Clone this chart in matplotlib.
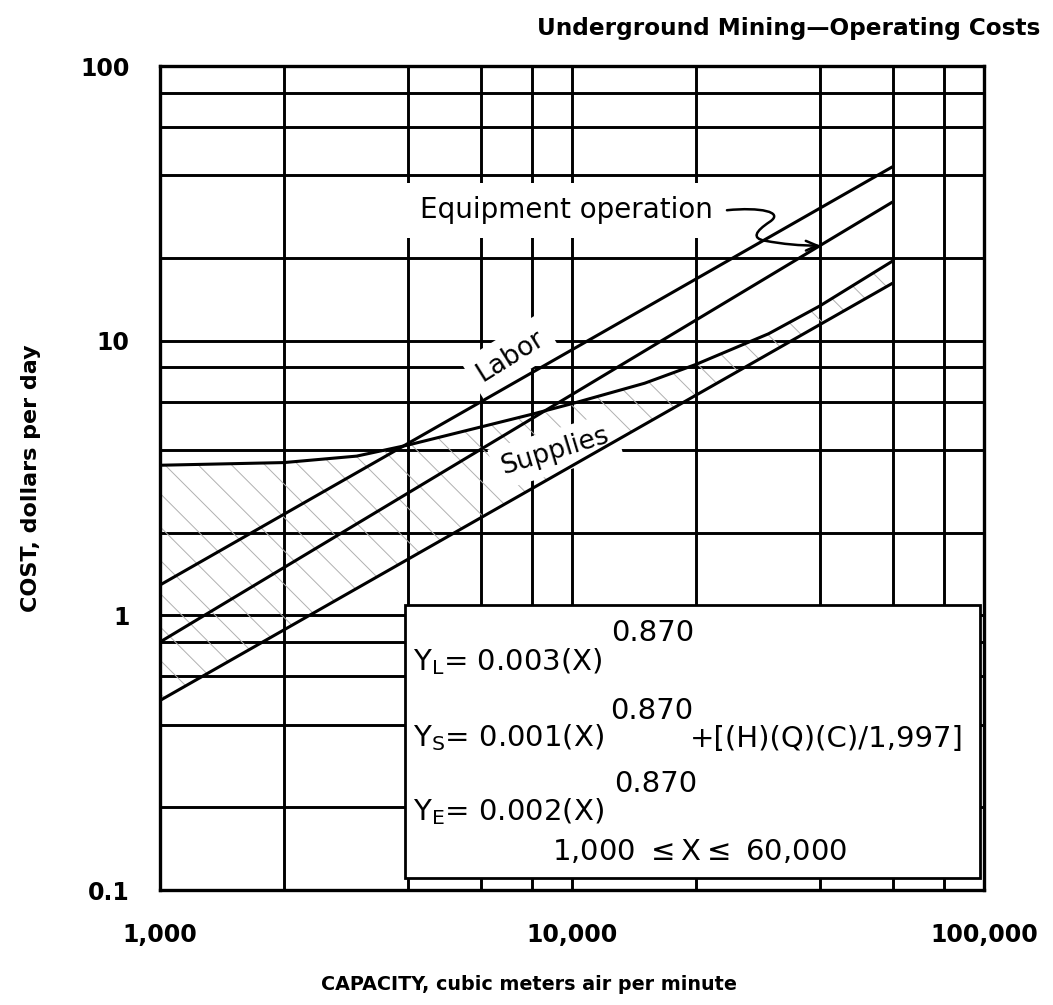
import matplotlib
matplotlib.use("Agg")
import matplotlib.pyplot as plt
import numpy as np
from matplotlib.patches import Rectangle, FancyArrowPatch
from matplotlib.path import Path
from matplotlib.ticker import LogLocator, FixedLocator, FixedFormatter, NullFormatter

# Capacity, cubic meters of air per minute -> cost, dollars per day
labor_x = [1000, 60000]
labor_y = [1.29, 43.0]

equip_x = [1000, 60000]
equip_y = [0.80, 32.0]

supplies_x = [1000, 2000, 3000, 4000, 6000, 8000, 10000, 15000, 20000, 30000, 40000, 60000]
supplies_y = [3.52, 3.6, 3.8, 4.17, 4.85, 5.4, 5.9, 7.0, 8.2, 10.6, 13.4, 19.5]

base_x = [1000, 60000]
base_y = [0.49, 16.2]

x_ticks = [1000, 10000, 100000]
x_tick_labels = ["1,000", "10,000", "100,000"]
y_ticks = [0.1, 1, 10, 100]
y_tick_labels = ["0.1", "1", "10", "100"]

plt.rcParams["font.family"] = ["DejaVu Sans"]
plt.rcParams["hatch.linewidth"] = 0.7

fig = plt.figure(figsize=(10.53, 10.05), dpi=100)
ax = fig.add_axes([0.152, 0.1144, 0.7825, 0.8199])
ax.set_xscale("log")
ax.set_yscale("log")
ax.set_xlim(1000, 100000)
ax.set_ylim(0.1, 100)

ax.xaxis.set_major_locator(FixedLocator(x_ticks))
ax.xaxis.set_major_formatter(FixedFormatter(x_tick_labels))
ax.yaxis.set_major_locator(FixedLocator(y_ticks))
ax.yaxis.set_major_formatter(FixedFormatter(y_tick_labels))
ax.xaxis.set_minor_locator(LogLocator(base=10, subs=[2, 4, 6, 8]))
ax.yaxis.set_minor_locator(LogLocator(base=10, subs=[2, 4, 6, 8]))
ax.xaxis.set_minor_formatter(NullFormatter())
ax.yaxis.set_minor_formatter(NullFormatter())
ax.tick_params(which="both", length=0)
ax.tick_params(axis="x", pad=24, labelsize=17)
ax.tick_params(axis="y", pad=22, labelsize=17)
for lab in ax.get_xticklabels() + ax.get_yticklabels():
    lab.set_fontweight("bold")

ax.set_axisbelow(True)
ax.grid(which="both", color="black", linewidth=2.1)
for sp in ax.spines.values():
    sp.set_linewidth(2.4)


def on_line(xs, ys, x):
    """Value of a straight log-log segment at x."""
    return 10 ** np.interp(np.log10(x), np.log10(xs), np.log10(ys))


# Hatched band between the supplies curve and the base line
sx = np.array(supplies_x, dtype=float)
ax.fill_between(sx, on_line(base_x, base_y, sx), supplies_y, facecolor="none",
                edgecolor="#b0b0b0", hatch="\\", linewidth=0, zorder=1)

line_kw = dict(color="black", linewidth=2.2, zorder=2.5, solid_capstyle="butt",
               solid_joinstyle="round")
ax.plot(labor_x, labor_y, **line_kw)
ax.plot(equip_x, equip_y, **line_kw)
ax.plot(supplies_x, supplies_y, **line_kw)
ax.plot(base_x, base_y, **line_kw)

white_box = dict(facecolor="white", edgecolor="none", pad=6)
ax.text(7100, 8.8, "Labor", rotation=32, fontsize=19, ha="center", va="center",
        bbox=white_box, zorder=2)
ax.text(9100, 3.95, "Supplies", rotation=17, fontsize=19, ha="center", va="center",
        bbox=white_box, zorder=2)
ax.text(9700, 29.8, "Equipment operation", fontsize=20, ha="center", va="center",
        bbox=dict(facecolor="white", edgecolor="none", pad=10), zorder=2)

# Curly leader from the label to the equipment line
verts = [(0.688, 0.825), (0.728, 0.829), (0.758, 0.823), (0.740, 0.811),
         (0.722, 0.799), (0.718, 0.791), (0.734, 0.788)]
codes = [Path.MOVETO, Path.CURVE4, Path.CURVE4, Path.CURVE4,
         Path.CURVE4, Path.CURVE4, Path.CURVE4]
ax.add_patch(FancyArrowPatch(path=Path(verts, codes), arrowstyle="-",
                             transform=ax.transAxes, linewidth=1.8,
                             color="black", zorder=3))
ax.annotate("", xy=(40000, on_line(equip_x, equip_y, 40000)), xycoords="data",
            xytext=(0.734, 0.788), textcoords="axes fraction",
            arrowprops=dict(arrowstyle="->,head_length=0.8,head_width=0.35",
                            connectionstyle="arc3,rad=0.05",
                            color="black", linewidth=1.8, shrinkA=0, shrinkB=0),
            zorder=3)

# Equation panel
ax.add_patch(Rectangle((0.297, 0.0146), 0.698, 0.331, transform=ax.transAxes,
                       facecolor="white", edgecolor="black", linewidth=2.0,
                       zorder=4))
eq_kw = dict(transform=ax.transAxes, fontsize=21, zorder=5, va="baseline")
ax.text(0.307, 0.267, r"$\mathregular{Y_L}$= 0.003(X)", ha="left", **eq_kw)
ax.text(0.548, 0.302, "0.870", ha="left", **eq_kw)
ax.text(0.307, 0.174, r"$\mathregular{Y_S}$= 0.001(X)", ha="left", **eq_kw)
ax.text(0.546, 0.208, "0.870", ha="left", **eq_kw)
ax.text(0.643, 0.174, "+[(H)(Q)(C)/1,997]", ha="left", **eq_kw)
ax.text(0.307, 0.085, r"$\mathregular{Y_E}$= 0.002(X)", ha="left", **eq_kw)
ax.text(0.551, 0.119, "0.870", ha="left", **eq_kw)
ax.text(0.655, 0.036, r"1,000 $\leq$X$\leq$ 60,000", ha="center", **eq_kw)

fig.text(0.988, 0.972, "Underground Mining\u2014Operating Costs", ha="right",
         va="center", fontsize=16.7, fontweight="bold")
fig.text(0.502, 0.020, "CAPACITY, cubic meters air per minute", ha="center",
         va="center", fontsize=13.8, fontweight="bold")
fig.text(0.029, 0.524, "COST, dollars per day", ha="center", va="center",
         rotation=90, fontsize=16, fontweight="bold")

fig.savefig("out.png", dpi=100)
